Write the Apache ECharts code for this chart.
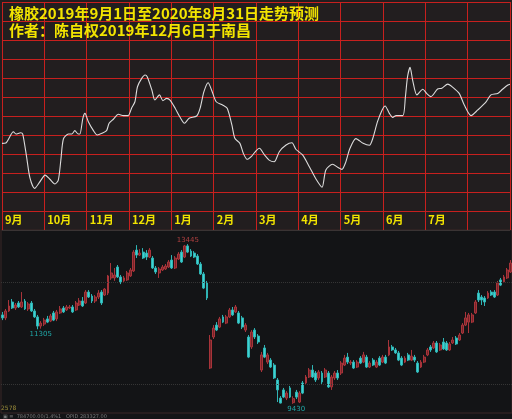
<!DOCTYPE html>
<html><head><meta charset="utf-8">
<script src="https://cdn.jsdelivr.net/npm/echarts@6/dist/echarts.min.js"></script>
<style>html,body{margin:0;padding:0;background:#131416;}#c{width:512px;height:419px;}</style>
</head><body><div id="c"></div>
<script>
// ---- top panel: forecast line (x in months from 1 Sep 2019, y in grid units) ----
const forecastX = [0,0.09,0.27,0.33,0.44,0.49,0.58,0.66,0.77,0.88,
1.02,1.13,1.25,1.33,1.39,1.45,1.57,1.65,1.72,1.80,
1.84,1.91,1.96,2.04,2.16,2.25,2.36,2.47,2.53,2.63,
2.75,2.87,2.98,3.06,3.14,3.20,3.30,3.38,3.43,3.54,
3.61,3.72,3.80,3.89,3.97,4.09,4.20,4.31,4.42,4.60,
4.68,4.77,4.87,4.95,5.06,5.21,5.32,5.43,5.50,5.62,
5.70,5.79,5.90,6.00,6.08,6.20,6.31,6.43,6.55,6.71,
6.85,6.94,7.10,7.26,7.42,7.56,7.65,7.81,7.93,8.03,
8.11,8.22,8.36,8.53,8.68,8.76,8.87,8.98,9.05,9.15,
9.23,9.31,9.47,9.53,9.58,9.64,9.70,9.80,9.94,10.03,
10.13,10.29,10.39,10.53,10.65,10.80,10.92,11.08,11.24,11.42,
11.55,11.71,11.83,11.95,12.0];
const forecastY = [4.56,4.58,5.17,5.05,5.12,5.05,3.86,2.74,2.19,2.49,
2.89,2.67,2.42,2.63,3.68,4.79,5.05,5.05,5.23,5.05,
5.05,5.88,6.14,5.70,5.23,5.00,5.09,5.23,5.62,5.83,
6.09,6.02,6.02,6.41,6.75,7.54,7.98,8.16,8.07,7.37,
6.84,7.11,6.81,6.93,6.84,6.41,5.96,5.62,5.88,6.00,
6.41,7.28,7.75,7.37,6.75,6.58,6.41,5.53,4.83,4.56,
4.04,3.72,3.89,4.17,4.30,3.95,3.68,3.59,4.12,4.47,
4.59,4.25,3.95,3.33,2.67,2.25,3.16,3.46,3.30,3.19,
3.51,4.30,4.81,4.56,4.46,4.83,5.70,6.32,6.53,6.14,
5.93,6.02,6.02,7.02,8.07,8.56,7.89,7.11,7.41,7.19,
7.02,7.42,7.46,7.68,7.51,7.19,6.58,6.02,6.32,6.70,
7.11,7.19,7.42,7.63,7.67];
const monthLabels = ['9月','10月','11月','12月','1月','2月','3月','4月','5月','6月','7月'];
const titleLines = ['橡胶2019年9月1日至2020年8月31日走势预测','作者：陈自权2019年12月6日于南昌'];

// ---- bottom panel: daily candles [open, close, low, high] ----
const ohlc = [
[11665,11590,11535,11740],[11590,11765,11535,11815],[11765,11890,11740,12040],[11990,11840,11815,12065],
[11840,11915,11790,11965],[11965,11865,11840,12015],[11865,11990,11840,12240],[12015,11815,11790,12065],
[11815,11940,11765,11990],[11965,11765,11740,12015],[11765,11615,11590,11815],[11615,11385,11305,11665],
[11385,11460,11320,11510],[11435,11535,11385,11590],[11565,11485,11460,11640],[11510,11640,11485,11690],
[11715,11535,11510,11765],[11565,11740,11510,11790],[11715,11815,11690,11890],[11840,11740,11715,11890],
[11790,11865,11765,11915],[11840,11865,11815,11915],[11865,11740,11715,11915],[11790,11965,11765,12015],
[11915,12015,11890,12090],[12015,11890,11865,12115],[11965,12240,11940,12290],[12240,12115,12090,12290],
[12140,12015,11965,12190],[12015,12115,11965,12165],[12115,12215,12065,12290],[12240,11965,11915,12290],
[12165,12315,12140,12340],[12215,12645,12165,12670],[12595,12720,12545,12970],[12595,12670,12520,12845],
[12870,12620,12595,12920],[12620,12495,12440,12670],[12520,12595,12470,12645],[12545,12720,12520,12770],
[12645,12795,12620,12845],[12770,13245,12745,13295],[13295,13170,13095,13420],[13170,13220,13145,13320],
[13245,13095,13070,13345],[13220,13120,13045,13295],[13120,13295,13095,13345],[13095,12845,12820,13145],
[12845,12745,12695,12895],[12720,12820,12595,12870],[12795,12870,12770,12920],[12820,12895,12795,12945],
[12870,12995,12845,13045],[13045,12845,12820,13170],[12845,13095,12820,13145],[13070,13195,13045,13245],
[13245,12995,12970,13295],[13120,13400,13095,13425],[13400,13245,13220,13445],[13270,13145,13120,13320],
[13220,13120,13095,13270],[13145,12945,12920,13195],[12945,12695,12670,12995],[12695,12340,12315,12745],
[12470,12090,12040,12520],[10330,11035,10305,11160],[11110,11335,11060,11410],[11410,11285,11260,11485],
[11360,11565,11335,11615],[11615,11485,11460,11665],[11460,11615,11435,11665],[11615,11790,11590,11840],
[11790,11665,11640,11865],[11740,11865,11715,11915],[11715,11460,11435,11765],[11590,11360,11310,11640],
[11285,11410,11235,11460],[11110,10605,10580,11160],[10860,11235,10810,11285],[11285,11110,11060,11335],
[11135,10985,10935,11185],[10280,10660,10230,10735],[10835,10605,10580,10910],[10480,10660,10430,10710],
[10530,10355,10330,10580],[10405,10080,10055,10455],[10030,9780,9475,10080],[9575,9450,9440,9625],
[9780,9600,9575,9830],[9575,9700,9525,9750],[9830,9600,9575,9880],[9460,9560,9430,9620],
[9725,9600,9550,9780],[9475,9700,9450,9750],[9955,9700,9675,10005],[9955,10105,9905,10155],
[10105,10280,10080,10330],[10280,10105,10080,10405],[10205,10030,9980,10255],[10080,10230,10030,10280],
[10205,9980,9930,10255],[10105,10280,10080,10330],[10205,9855,9830,10255],[9855,10105,9780,10155],
[10080,10205,10030,10255],[10205,10080,10030,10280],[10205,10455,10155,10505],[10405,10580,10380,10660],
[10605,10480,10430,10710],[10455,10480,10405,10530],[10480,10330,10305,10530],[10355,10480,10330,10530],
[10580,10455,10430,10630],[10480,10660,10455,10735],[10605,10355,10330,10660],[10355,10455,10330,10505],
[10530,10405,10380,10580],[10355,10480,10330,10530],[10580,10405,10380,10630],[10480,10605,10455,10660],
[10605,10455,10430,10660],[10660,10860,10630,11035],[10860,10785,10760,10910],[10785,10710,10685,10835],
[10710,10530,10505,10760],[10580,10405,10380,10630],[10480,10580,10455,10630],[10660,10530,10505,10710],
[10530,10630,10505,10785],[10605,10530,10480,10660],[10455,10230,10205,10505],[10355,10480,10330,10530],
[10480,10605,10455,10660],[10660,10785,10630,10835],[10860,10785,10735,10910],[10835,10960,10810,11010],
[10960,10735,10710,11010],[10785,10910,10760,10960],[10985,10810,10785,11085],[10960,10785,10760,11010],
[10785,10935,10760,10985],[10960,11035,10935,11110],[11085,10935,10910,11135],[11035,11160,11010,11210],
[11210,11410,11185,11460],[11410,11590,11385,11740],[11485,11665,11210,11715],[11485,11665,11460,11715],
[11715,11990,11690,12040],[12215,12040,11990,12290],[12115,12040,11915,12165],[12090,11990,11890,12140],
[12090,12215,12065,12265],[12240,12165,12140,12290],[12240,12115,12090,12290],[12165,12470,12140,12520],
[12545,12415,12390,12595],[12495,12620,12470,12670],[12595,12795,12570,12845],[12745,12970,12720,13045]
];
const candleDays = ohlc.map((d, i) => String(i + 1));
const highMarks = [58];          // index of labelled high
const lowMarks = [11, 91];       // indices of labelled lows
const refLevels = [12490, 9930]; // dotted reference levels

const YEL = '#f2e400', RED = '#c8201e';
const chart = echarts.init(document.getElementById('c'), null, {renderer: 'canvas'});

const splitColors = ['#3a3434'];
for (let i = 0; i < 12; i++) splitColors.push(RED);

const markData = [];
highMarks.forEach(i => markData.push({coord: [i, ohlc[i][3]], value: ohlc[i][3],
  label: {color: '#b04040', offset: [0, -4]}}));
lowMarks.forEach(i => markData.push({coord: [i, ohlc[i][2]], value: ohlc[i][2],
  label: {color: '#20a8a8', offset: [3, 5]}}));

chart.setOption({
  backgroundColor: '#131416',
  animation: false,
  graphic: [
    {type: 'rect', z: -100, silent: true, shape: {x: 0, y: 0, width: 512, height: 230}, style: {fill: '#221e1f'}},
    {type: 'text', left: 1, top: 405, silent: true, style: {text: '2578', fill: '#9a8c3a', font: '6px "DejaVu Sans"'}},
    {type: 'text', left: 3, top: 414, silent: true, style: {text: '▣ ≡  784700.00/1.4%1   OPID 283327.00', fill: '#7a7a7a', font: '5px "DejaVu Sans"'}}
  ],
  title: {
    text: titleLines.join('\n'), left: 9, top: 5, padding: 0,
    textStyle: {color: YEL, fontSize: 15, fontWeight: 'bold', lineHeight: 17, fontFamily: '"Noto Sans CJK SC"'}
  },
  grid: [
    {left: 2, top: 2, width: 508, height: 228, show: false},
    {left: 1, top: 230, right: 0, height: 183, show: true, backgroundColor: 'transparent', borderColor: '#3a2626', borderWidth: 1}
  ],
  xAxis: [
    {type: 'value', gridIndex: 0, min: 0, max: 12, interval: 1,
      axisLine: {show: false}, axisTick: {show: false},
      splitLine: {show: true, lineStyle: {color: RED, width: 1}},
      axisLabel: {inside: true, margin: 5, align: 'left', padding: [0, 0, 0, 3], showMinLabel: true, showMaxLabel: false,
        color: YEL, fontSize: 11, fontWeight: 'bold', fontFamily: '"Noto Sans CJK SC"',
        formatter: v => monthLabels[Math.round(v)] || ''}},
    {type: 'category', gridIndex: 1, data: candleDays, boundaryGap: true, show: false}
  ],
  yAxis: [
    {type: 'value', gridIndex: 0, min: 0, max: 12, interval: 1,
      axisLine: {show: false}, axisTick: {show: false}, axisLabel: {show: false},
      splitLine: {show: true, lineStyle: {color: splitColors, width: 1}}},
    {type: 'value', gridIndex: 1, min: 9200, max: 13800, show: false, splitLine: {show: false}}
  ],
  series: [
    {type: 'line', xAxisIndex: 0, yAxisIndex: 0, symbol: 'none', smooth: 0.25,
      data: forecastX.map((x, i) => [x, forecastY[i]]),
      lineStyle: {color: '#dcdcdc', width: 1.1}},
    {type: 'candlestick', xAxisIndex: 1, yAxisIndex: 1, data: ohlc, barWidth: 2.4,
      itemStyle: {color: '#752428', borderColor: '#a8343a', color0: '#40d2d2', borderColor0: '#2fb4b4', borderWidth: 1},
      markPoint: {symbol: 'circle', symbolSize: 0, silent: true,
        label: {show: true, formatter: '{c}', fontSize: 7, fontFamily: '"DejaVu Sans"'},
        data: markData},
      markLine: {symbol: 'none', silent: true, label: {show: false},
        lineStyle: {color: '#353535', type: 'dotted', width: 1},
        data: refLevels.map(v => ({yAxis: v}))}
    }
  ]
});
</script></body></html>
